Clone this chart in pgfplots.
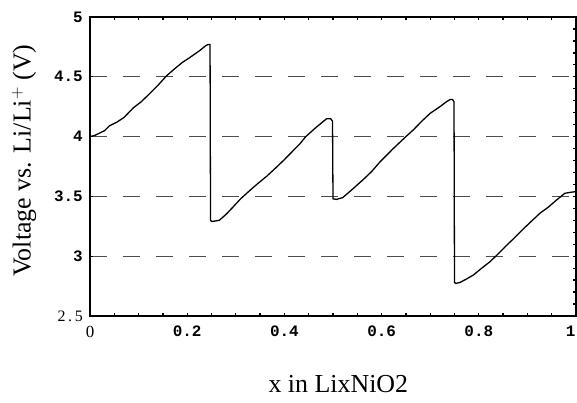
\documentclass[border=0pt]{standalone}
\usepackage{fontspec}
\setmainfont{Liberation Serif}
\setmonofont{Liberation Mono}
\usepackage{pgfplots}
\pgfplotsset{compat=1.18}
\newcommand{\tk}{\ttfamily\bfseries\fontsize{16}{16}\selectfont}
\newcommand{\sr}{\rmfamily\mdseries\fontsize{16}{16}\selectfont}
\begin{document}
\begin{tikzpicture}
\useasboundingbox (-90bp,-87bp) rectangle (487bp,316bp);
\begin{axis}[
  scale only axis, width=486bp, height=299bp,
  xmin=0, xmax=1, ymin=2.5, ymax=5,
  axis line style={line width=1.5bp},
  xtick={0,0.2,0.4,0.6,0.8,1},
  xticklabels={{\sr\fontsize{17}{17}\selectfont 0},0.2,0.4,0.6,0.8,{\hbox to 0pt{\hss 1\hskip 0.5bp}}},
  minor x tick num=3,
  ytick={2.5,3,3.5,4,4.5,5},
  yticklabels={{\sr 2\,.\,5},3,3.5,4,4.5,5},
  ytick pos=left,
  tick align=inside,
  major tick length=3bp, minor tick length=3bp,
  every tick/.style={line width=1.3bp, black},
  ticklabel style={font=\tk, inner sep=0pt},
  xticklabel style={anchor=north, yshift=-10bp},
  yticklabel style={anchor=east, xshift=-7bp},
  ymajorgrids,
  grid style={black!70, line width=0.8bp, dash pattern=on 17bp off 16bp},
  xlabel={x in LixNiO2},
  xlabel style={font=\fontsize{26}{26}\selectfont, at={(axis description cs:0.511,-0.255)}, anchor=base},
  ylabel={Voltage vs. Li/Li$^+$ (V)},
  ylabel style={font=\fontsize{26}{26}\selectfont, at={(axis description cs:-0.1358,0.52)}, anchor=center},
]
\addplot[black, line width=1.3bp] coordinates {
(0,4.00) (0.01,4.01) (0.02,4.03) (0.03,4.05) (0.04,4.09) (0.055,4.12) (0.07,4.16)
(0.089,4.24) (0.105,4.29) (0.123,4.36) (0.14,4.43) (0.158,4.51) (0.175,4.57)
(0.19,4.62) (0.205,4.66) (0.226,4.72) (0.238,4.76) (0.243,4.77) (0.247,4.77)
(0.248,3.30) (0.251,3.29) (0.266,3.30) (0.28,3.35) (0.294,3.41) (0.31,3.48)
(0.329,3.55) (0.346,3.61) (0.364,3.67) (0.38,3.73) (0.398,3.80) (0.415,3.87)
(0.432,3.94) (0.444,4.00) (0.466,4.08) (0.478,4.12) (0.487,4.15) (0.495,4.15)
(0.499,4.13) (0.500,3.48) (0.507,3.475) (0.52,3.49) (0.54,3.56) (0.562,3.64)
(0.58,3.71) (0.597,3.79) (0.624,3.90) (0.65,4.00) (0.665,4.055) (0.683,4.13)
(0.70,4.195) (0.72,4.25) (0.733,4.29) (0.741,4.31) (0.746,4.31) (0.749,4.29)
(0.750,2.78) (0.753,2.773) (0.761,2.78) (0.775,2.81) (0.789,2.843) (0.806,2.90)
(0.823,2.954) (0.84,3.02) (0.857,3.09) (0.875,3.16) (0.892,3.23) (0.909,3.295)
(0.926,3.36) (0.943,3.41) (0.96,3.47) (0.977,3.526) (0.99,3.535) (1.0,3.54)
};
\end{axis}
\begin{axis}[
  scale only axis, width=486bp, height=299bp,
  xmin=0, xmax=1, ymin=2.5, ymax=5,
  axis line style={line width=1.5bp},
  xtick=\empty,
  ytick distance=0.1,
  yticklabels={},
  ytick pos=right,
  tick align=inside,
  major tick length=3bp,
  every tick/.style={line width=1.3bp, black},
]
\end{axis}
\end{tikzpicture}
\end{document}
